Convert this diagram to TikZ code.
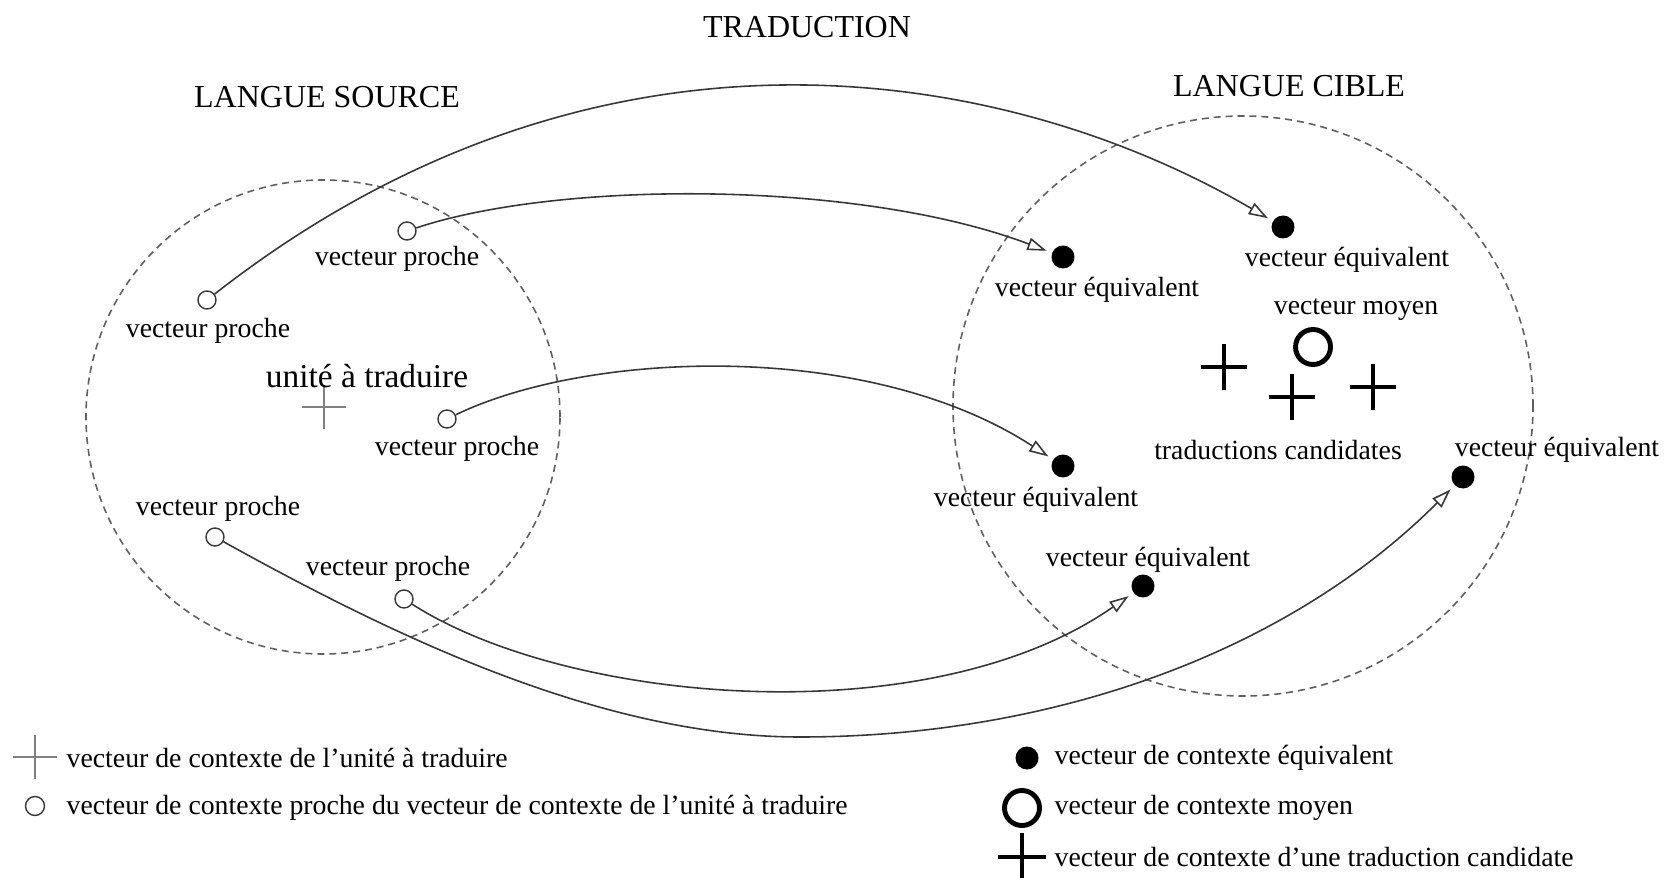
\documentclass[tikz,border=0pt]{standalone}
\usepackage{fontspec}
\setmainfont{Liberation Serif}
\usetikzlibrary{arrows.meta, shapes.misc}
\definecolor{linegray}{RGB}{55,55,55}
\definecolor{dashgray}{RGB}{95,95,95}

\begin{document}
\begin{tikzpicture}[
		lbl/.style={inner sep=0pt, font=\fontsize{7.9}{9}\selectfont},
		heading/.style={inner sep=0pt, font=\fontsize{9.1}{11}\selectfont},
		closept/.style={draw=linegray, circle, inner sep=0pt, minimum size=0.18cm, line width=0.4pt},
		eqpt/.style={fill, circle, inner sep=0pt, minimum size=0.23cm},
		meanpt/.style={draw, circle, inner sep=0pt, minimum size=0.35cm, line width=1.4pt},
		candpt/.style={draw, cross out, rotate=45, inner sep=0pt, minimum size=0.29cm, line width=1.1pt},
		unitpt/.style={draw=gray, cross out, rotate=45, inner sep=0pt, minimum size=0.29cm, line width=0.5pt},
		link/.style={draw=linegray, line width=0.45pt, -{Triangle[open, length=5.5pt, width=3.6pt]}, shorten >=1.5pt},
		lang/.style={draw=dashgray, dash pattern=on 2pt off 1.4pt, line width=0.45pt}]
		\useasboundingbox (0,0) rectangle (16.66,-8.78);
		
		\node[heading] (t0) at (8.07,-0.27) {TRADUCTION};
		\node[heading] (t1) at (3.27,-0.97) {LANGUE SOURCE};
		\node[heading] (t2) at (12.89,-0.86) {LANGUE CIBLE};
		
		\draw[lang] (3.23,-4.17) circle (2.37);
		\draw[lang] (12.43,-4.06) circle (2.90);
		
		% langue source
		\node[closept] (s1) at (2.07,-3.00) {};
		\node[closept] (s2) at (4.07,-2.31) {};
		\node[closept] (s3) at (4.47,-4.19) {};
		\node[closept] (s4) at (2.15,-5.37) {};
		\node[closept] (s5) at (4.04,-5.99) {};
		\node[unitpt] (u) at (3.24,-4.07) {};
		
		\node[lbl] (ls1) at (2.08,-3.31) {vecteur proche};
		\node[lbl] (ls2) at (3.97,-2.59) {vecteur proche};
		\node[lbl] (ls3) at (4.57,-4.49) {vecteur proche};
		\node[lbl] (ls4) at (2.18,-5.09) {vecteur proche};
		\node[lbl] (ls5) at (3.88,-5.69) {vecteur proche};
		\node[inner sep=0pt, font=\fontsize{9.5}{11}\selectfont] (lu) at (3.67,-3.76) {unité à traduire};
		
		% langue cible
		\node[eqpt] (e1) at (10.63,-2.57) {};
		\node[eqpt] (e2) at (12.83,-2.27) {};
		\node[eqpt] (e3) at (10.63,-4.66) {};
		\node[eqpt] (e4) at (11.43,-5.86) {};
		\node[eqpt] (e5) at (14.63,-4.77) {};
		\node[meanpt] (m) at (13.13,-3.47) {};
		\node[candpt] (c1) at (12.24,-3.67) {};
		\node[candpt] (c2) at (12.92,-3.97) {};
		\node[candpt] (c3) at (13.73,-3.87) {};
		
		\node[lbl] (le1) at (10.97,-2.90) {vecteur équivalent};
		\node[lbl] (le2) at (13.47,-2.60) {vecteur équivalent};
		\node[lbl] (le3) at (10.36,-5.00) {vecteur équivalent};
		\node[lbl] (le4) at (11.48,-5.60) {vecteur équivalent};
		\node[lbl] (le5) at (15.57,-4.50) {vecteur équivalent};
		\node[lbl] (lm) at (13.56,-3.10) {vecteur moyen};
		\node[lbl] (lc) at (12.78,-4.50) {traductions candidates};
		
		% traduction
		\draw[link] (s1) .. controls (6.01,0.08) and (10.09,-0.67) .. (e2);
		\draw[link] (s2) .. controls (5.60,-1.80) and (8.60,-1.80) .. (e1);
		\draw[link] (s3) .. controls (5.90,-3.50) and (8.70,-3.40) .. (e3);
		\draw[link] (s5) .. controls (5.70,-7.05) and (9.30,-7.35) .. (e4);
		\draw[link] (s4) .. controls (3.90,-6.34) and (6.00,-7.37) .. (8.00,-7.37)
			.. controls (10.50,-7.37) and (12.86,-6.54) .. (e5);
		
		% legende
		\node[unitpt] (k1) at (0.35,-7.57) {};
		\node[closept, minimum size=0.19cm] (k2) at (0.35,-8.06) {};
		\node[eqpt] (k3) at (10.27,-7.58) {};
		\node[meanpt] (k4) at (10.22,-8.08) {};
		\node[candpt, minimum size=0.3cm] (k5) at (10.22,-8.57) {};
		
		\node[lbl, anchor=west] (lk1) at (0.66,-7.58) {vecteur de contexte de l'unité à traduire};
		\node[lbl, anchor=west] (lk2) at (0.66,-8.08) {vecteur de contexte proche du vecteur de contexte de l'unité à traduire};
		\node[lbl, anchor=west] (lk3) at (10.54,-7.58) {vecteur de contexte équivalent};
		\node[lbl, anchor=west] (lk4) at (10.54,-8.08) {vecteur de contexte moyen};
		\node[lbl, anchor=west] (lk5) at (10.54,-8.57) {vecteur de contexte d'une traduction candidate};
	\end{tikzpicture}
\end{document}
